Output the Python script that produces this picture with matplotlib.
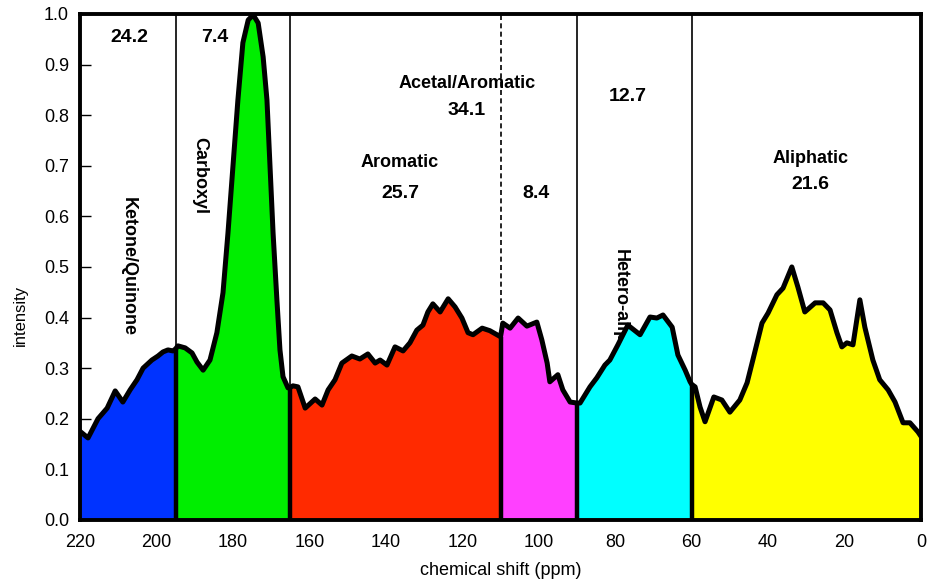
import numpy as np
import matplotlib
matplotlib.use("Agg")
import matplotlib.pyplot as plt

plt.rcParams['font.family'] = ['Liberation Sans', 'DejaVu Sans']

# chemical shift (ppm) and intensity of the spectrum
ppm = [220, 217.9, 215.3, 212.9, 210.8, 208.8, 206.9, 205.1, 203.5, 201.2, 199.6, 198.3, 197, 195.7, 195,
       194.4, 192.5, 190.7, 189.4, 187.8, 186, 184.2, 182.6, 181.3, 180, 178.7, 177.4, 176, 174.7, 173.4,
       172.1, 171.1, 170.3, 169.5, 168.5, 167.7, 166.9, 165.6, 165, 164.3, 163, 161.1, 158.5, 156.7, 155.1,
       153.3, 151.5, 148.9, 146.8, 144.7, 142.8, 141.5, 139.7, 137.6, 135.5, 133.7, 131.9, 130.3, 129,
       127.7, 125.8, 123.7, 121.9, 120.1, 118.5, 117.2, 114.8, 112.8, 110.9, 110, 109.4, 107.5, 105.4,
       103.1, 100.5, 99.2, 97.8, 97.1, 95, 93.7, 91.8, 90, 89.2, 86.6, 84.8, 82.7, 81.4, 79.3, 76.7,
       73.5, 70.9, 69.1, 67.5, 65.1, 63.6, 61.7, 60.4, 60, 59.1, 57.8, 56.5, 54.2, 52.1, 50, 47.4, 45.5,
       44, 41.6, 40, 37.7, 36.1, 33.8, 32.2, 30.4, 27.7, 25.6, 23.8, 22, 20.7, 19.4, 17.8, 16, 14.7,
       12.6, 10.8, 8.6, 6.8, 4.7, 2.9, 0.8, 0]
intensity = [0.175, 0.162, 0.200, 0.221, 0.255, 0.233, 0.257, 0.277, 0.300, 0.316, 0.324, 0.332, 0.336, 0.334, 0.338,
             0.344, 0.340, 0.330, 0.312, 0.296, 0.316, 0.370, 0.449, 0.567, 0.698, 0.830, 0.943, 0.988, 0.998, 0.982,
             0.915, 0.830, 0.698, 0.567, 0.435, 0.336, 0.283, 0.261, 0.262, 0.265, 0.263, 0.221, 0.239, 0.227, 0.257,
             0.277, 0.310, 0.324, 0.318, 0.328, 0.310, 0.316, 0.306, 0.342, 0.334, 0.350, 0.375, 0.385, 0.411,
             0.427, 0.411, 0.437, 0.421, 0.399, 0.370, 0.366, 0.379, 0.374, 0.366, 0.362, 0.389, 0.379, 0.399,
             0.383, 0.391, 0.356, 0.310, 0.273, 0.287, 0.257, 0.233, 0.231, 0.231, 0.263, 0.281, 0.306, 0.316, 0.346, 0.385,
             0.366, 0.401, 0.399, 0.405, 0.381, 0.326, 0.296, 0.273, 0.268, 0.263, 0.223, 0.194, 0.243, 0.237, 0.213, 0.237, 0.271,
             0.316, 0.389, 0.409, 0.445, 0.458, 0.500, 0.460, 0.411, 0.429, 0.429, 0.415, 0.370, 0.342, 0.350, 0.346, 0.435, 0.381,
             0.316, 0.277, 0.257, 0.233, 0.192, 0.192, 0.174, 0.165]

# regions: boundaries (ppm), colours
bounds = [220, 195, 165, 110, 90, 60, 0]
colors = ['#0033ff', '#00ee00', '#ff2a00', '#ff40ff', '#00ffff', '#ffff00']

x = np.array(ppm, dtype=float)
y = np.array(intensity, dtype=float)

fig = plt.figure(figsize=(9.36, 5.79), dpi=100)
ax = fig.add_axes([0.0855, 0.102, 0.8985, 0.874])

# thin separators
for b in [195, 165, 90, 60]:
    ax.axvline(b, color='black', lw=1.2, zorder=1)
ax.axvline(110, color='black', lw=1.2, ls=(0, (3, 2)), zorder=1)

# rotated labels drawn below the fill
rot = dict(rotation=-90, ha='center', fontsize=13, fontweight='bold', zorder=1)
ax.text(207.4, 0.50, 'Ketone/Quinone', va='center', **rot)
ax.text(188.6, 0.68, 'Carboxyl', va='center', **rot)
ax.text(78.6, 0.535, 'Hetero-aliphatic', va='top', **rot)

# fills
for i in range(len(bounds) - 1):
    hi, lo = bounds[i], bounds[i + 1]
    m = (x <= hi) & (x >= lo)
    ax.fill_between(x[m], 0, y[m], color=colors[i], lw=0, zorder=2)

# thick boundary lines under the curve
for b in [195, 165, 110, 90, 60]:
    yb = np.interp(b, x[::-1], y[::-1])
    ax.plot([b, b], [0, yb], color='black', lw=3.2, zorder=3, solid_capstyle='butt')

ax.plot(x, y, color='black', lw=3.6, zorder=4, solid_joinstyle='round', solid_capstyle='round')

# labels
name = dict(fontsize=13, fontweight='bold', ha='center', va='center', zorder=5)
num = dict(fontsize=14, fontweight='bold', ha='center', va='center', zorder=5)
ax.text(207, 0.953, '24.2', **num)
ax.text(184.7, 0.953, '7.4', **num)
ax.text(136.3, 0.706, 'Aromatic', **name)
ax.text(136.3, 0.646, '25.7', **num)
ax.text(118.8, 0.862, 'Acetal/Aromatic', **name)
ax.text(118.8, 0.810, '34.1', **num)
ax.text(100.7, 0.646, '8.4', **num)
ax.text(76.7, 0.836, '12.7', **num)
ax.text(29, 0.715, 'Aliphatic', **name)
ax.text(29, 0.662, '21.6', **num)

ax.set_xlim(220, 0)
ax.set_ylim(0, 1.0)
ax.set_xticks([220, 200, 180, 160, 140, 120, 100, 80, 60, 40, 20, 0])
ax.set_yticks(np.arange(0, 1.01, 0.1))
ax.set_yticklabels([f'{v:.1f}' for v in np.arange(0, 1.01, 0.1)])
ax.tick_params(axis='x', length=0, labelsize=13, pad=10)
ax.tick_params(axis='y', direction='in', length=8, width=1, labelsize=13, pad=8)
for s in ax.spines.values():
    s.set_linewidth(2.8)
    s.set_zorder(6)
ax.set_xlabel('chemical shift (ppm)', fontsize=13, labelpad=8)
ax.set_ylabel('intensity', fontsize=12)
ax.yaxis.set_label_coords(-0.062, 0.405)

fig.savefig('out.png', dpi=100)
